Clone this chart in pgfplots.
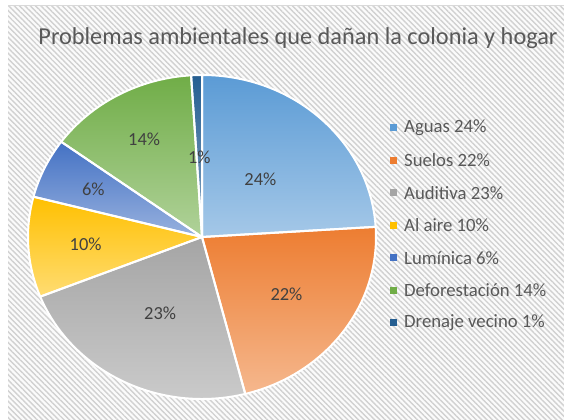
\documentclass[border=0pt]{standalone}
\usepackage{pgfplots}
\pgfplotsset{compat=1.18}
\usepackage{pgfplotstable}
\usepackage{fontspec}
\setmainfont{Carlito}
\usetikzlibrary{patterns.meta}

\definecolor{cA}{HTML}{5B9BD5}
\definecolor{cB}{HTML}{ED7D31}
\definecolor{cC}{HTML}{A5A5A5}
\definecolor{cD}{HTML}{FFC000}
\definecolor{cE}{HTML}{4472C4}
\definecolor{cF}{HTML}{70AD47}
\definecolor{cG}{HTML}{255E91}
\definecolor{txt}{HTML}{595959}
\definecolor{lbl}{HTML}{404040}

% name, percent, colour, label radius (fraction of pie radius)
\pgfplotstableread[col sep=comma]{
name,pct,col,lr
Aguas,24,cA,0.49
Suelos,22,cB,0.60
Auditiva,23,cC,0.53
Al aire,10,cD,0.67
Lumínica,6,cE,0.69
Deforestación,14,cF,0.69
Drenaje vecino,1,cG,0.49
}\pietable

\def\cx{202}\def\cy{183}\def\rx{174}\def\ry{162}

\begin{document}
\begin{tikzpicture}
\begin{axis}[x=1bp, y=1bp, xmin=0, xmax=564, ymin=0, ymax=420,
    scale only axis, hide axis, clip=false, anchor=origin, at={(0,0)}]
\addplot[draw=none] coordinates {(0,0) (564,420)};
\pgfplotsextra{
  \fill[white] (0,0) rectangle (564,420);
  \fill[gray!3] (8,0) rectangle (564,414);
  \pattern[pattern={Lines[angle=-45,distance=3.8pt,line width=1.4pt]},
           pattern color=gray!36] (8,0) rectangle (564,414);
  \draw[gray!30, line width=1bp] (8,414) -- (564,414);
  % slices
  \gdef\angA{90}
  \foreach \i in {0,...,6}{
    \pgfplotstablegetelem{\i}{pct}\of\pietable \let\p\pgfplotsretval
    \pgfplotstablegetelem{\i}{col}\of\pietable \let\c\pgfplotsretval
    \pgfmathsetmacro\angB{\angA-3.6*\p}
    \pgfmathsetmacro\xa{\cx+\rx*cos(\angA)}
    \pgfmathsetmacro\ya{\cy+\ry*sin(\angA)}
    \shade[top color=\c, bottom color=\c!55!white]
      (\cx,\cy) -- (\xa,\ya) arc[start angle=\angA, end angle=\angB,
      x radius=\rx, y radius=\ry] -- cycle;
    \xdef\angA{\angB}
  }
  % white borders and labels
  \gdef\angA{90}
  \foreach \i in {0,...,6}{
    \pgfplotstablegetelem{\i}{pct}\of\pietable \let\p\pgfplotsretval
    \pgfplotstablegetelem{\i}{lr}\of\pietable \let\lr\pgfplotsretval
    \pgfmathsetmacro\angB{\angA-3.6*\p}
    \pgfmathsetmacro\md{(\angA+\angB)/2}
    \pgfmathsetmacro\xa{\cx+\rx*cos(\angA)}
    \pgfmathsetmacro\ya{\cy+\ry*sin(\angA)}
    \draw[white, line width=2bp, line join=round]
      (\cx,\cy) -- (\xa,\ya) arc[start angle=\angA, end angle=\angB,
      x radius=\rx, y radius=\ry] -- cycle;
    \pgfmathsetmacro\lx{\cx+\lr*\rx*cos(\md)}
    \pgfmathsetmacro\ly{\cy+\lr*\ry*sin(\md)}
    \node[text=lbl, font=\fontsize{18.5}{20}\selectfont] at (\lx,\ly) {\p\%};
    \xdef\angA{\angB}
  }
  % legend
  \foreach \i in {0,...,6}{
    \pgfplotstablegetelem{\i}{name}\of\pietable \let\n\pgfplotsretval
    \pgfplotstablegetelem{\i}{pct}\of\pietable \let\p\pgfplotsretval
    \pgfplotstablegetelem{\i}{col}\of\pietable \let\c\pgfplotsretval
    \pgfmathsetmacro\ly{292-32.5*\i}
    \fill[\c] (390,\ly-3.5) rectangle (397,\ly+3.5);
    \node[anchor=west, text=txt, inner sep=0pt,
          font=\fontsize{18.8}{20}\selectfont] at (404,\ly) {\n\ \p\%};
  }
  % title
  \node[text=txt, font=\fontsize{24.4}{28}\selectfont] at (298,382)
    {Problemas ambientales que dañan la colonia y hogar};
}
\end{axis}
\pgfresetboundingbox
\path (0,0) rectangle (564bp,420bp);
\end{tikzpicture}
\end{document}
